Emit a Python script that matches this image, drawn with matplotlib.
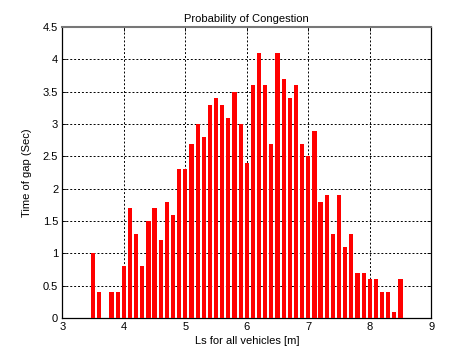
import numpy as np
import matplotlib
matplotlib.use("Agg")
import matplotlib.pyplot as plt

plt.rcParams['font.family'] = ['Liberation Sans', 'DejaVu Sans']

# bar centers (Ls, m) and heights (gap time, sec)
ls = [3.5, 3.6, 3.8, 3.9, 4.0, 4.1, 4.2, 4.3, 4.4, 4.5, 4.6, 4.7, 4.8, 4.9,
      5.0, 5.1, 5.2, 5.3, 5.4, 5.5, 5.6, 5.7, 5.8, 5.9, 6.0, 6.1, 6.2, 6.3,
      6.4, 6.5, 6.6, 6.7, 6.8, 6.9, 7.0, 7.1, 7.2, 7.3, 7.4, 7.5, 7.6, 7.7,
      7.8, 7.9, 8.0, 8.1, 8.2, 8.3, 8.4, 8.5]
gap = [1.0, 0.4, 0.4, 0.4, 0.8, 1.7, 1.3, 0.8, 1.5, 1.7, 1.2, 1.8, 1.6, 2.3,
       2.3, 2.7, 3.0, 2.8, 3.3, 3.4, 3.3, 3.1, 3.5, 3.0, 2.4, 3.6, 4.1, 3.6,
       2.7, 4.1, 3.7, 3.4, 3.6, 2.7, 2.5, 2.9, 1.8, 1.9, 1.3, 1.9, 1.1, 1.3,
       0.7, 0.7, 0.6, 0.6, 0.4, 0.4, 0.1, 0.6]

xticks = [3, 4, 5, 6, 7, 8, 9]
yticks = [0, 0.5, 1, 1.5, 2, 2.5, 3, 3.5, 4, 4.5]
ytick_labels = ['0', '0.5', '1', '1.5', '2', '2.5', '3', '3.5', '4', '4.5']

fig = plt.figure(figsize=(4.76, 3.57), dpi=100)
ax = fig.add_axes([0.131, 0.109, 0.775, 0.815])

ax.bar(ls, gap, width=0.068, color='#ff0000', edgecolor='none', zorder=3)

ax.set_xlim(3, 9)
ax.set_ylim(0, 4.5)
ax.set_xticks(xticks)
ax.set_yticks(yticks)
ax.set_yticklabels(ytick_labels)
ax.tick_params(direction='in', length=3, width=0.6, labelsize=8, pad=3,
               top=True, right=True)
ax.grid(True, color='black', linestyle=(0, (2, 2)), linewidth=0.7, zorder=1)
for s in ax.spines.values():
    s.set_linewidth(0.9)
    s.set_color('black')
ax.spines['top'].set_color('#777777')
ax.spines['top'].set_linewidth(1.5)

ax.set_title('Probability of Congestion', fontsize=8, pad=4)
ax.set_xlabel('Ls for all vehicles [m]', fontsize=8, labelpad=3)
ax.set_ylabel('Time of gap (Sec)', fontsize=8, labelpad=8)

fig.savefig('out.png', dpi=100)
